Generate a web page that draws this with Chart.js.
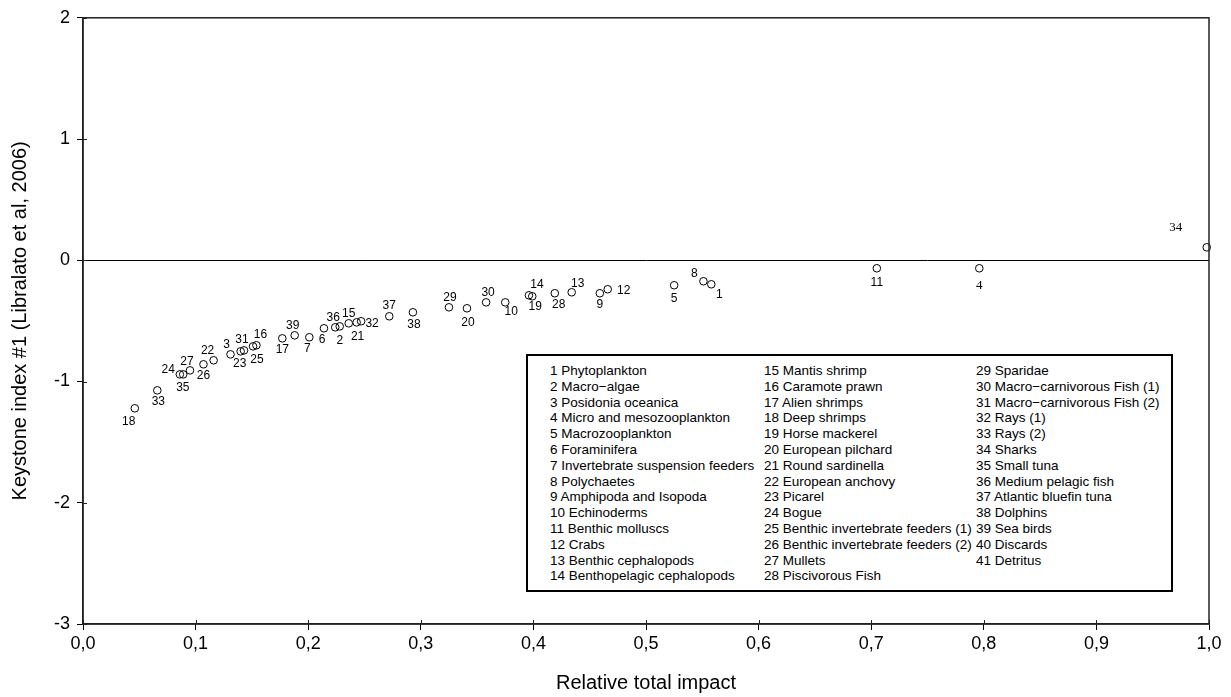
<!DOCTYPE html>
<html>
<head>
<meta charset="utf-8">
<title>Keystone index vs relative total impact</title>
<style>
  html, body { margin: 0; padding: 0; background: #fff; }
  body { font-family: "Liberation Sans", Arial, sans-serif; }
  .wrap { position: relative; width: 1231px; height: 697px; }
  #legendBox {
    position: absolute; left: 526px; top: 354px; width: 647px; height: 238px;
    border: 2px solid #000; box-sizing: border-box; background: #fff;
    font-size: 13.5px; color: #000;
  }
  #legendBox .col { position: absolute; top: 7px; line-height: 15.8px; white-space: nowrap; }
</style>
</head>
<body>
<script src="https://cdn.jsdelivr.net/npm/chart.js@4.4.1/dist/chart.umd.min.js"></script>
<div class="wrap">
  <canvas id="myChart" width="1231" height="697"></canvas>
  <div id="legendBox"></div>
</div>
<script>
// group numbers plotted (40 Discards and 41 Detritus have no point)
const groupIds = [1, 2, 3, 4, 5, 6, 7, 8, 9, 10, 11, 12, 13, 14, 15, 16, 17, 18, 19, 20,
                  21, 22, 23, 24, 25, 26, 27, 28, 29, 30, 31, 32, 33, 34, 35, 36, 37, 38, 39];
const relImpact = [0.558, 0.228, 0.131, 0.796, 0.525, 0.214, 0.201, 0.551, 0.459, 0.375,
                   0.705, 0.466, 0.434, 0.396, 0.236, 0.154, 0.177, 0.046, 0.399, 0.341,
                   0.243, 0.116, 0.140, 0.089, 0.151, 0.107, 0.095, 0.419, 0.325, 0.358,
                   0.143, 0.247, 0.066, 0.998, 0.086, 0.224, 0.272, 0.293, 0.188];
const keystone = [-0.198, -0.545, -0.776, -0.066, -0.206, -0.561, -0.635, -0.173, -0.272, -0.347,
                  -0.066, -0.239, -0.264, -0.289, -0.520, -0.701, -0.644, -1.221, -0.297, -0.396,
                  -0.512, -0.825, -0.751, -0.941, -0.710, -0.858, -0.908, -0.272, -0.388, -0.347,
                  -0.743, -0.503, -1.073, 0.107, -0.941, -0.553, -0.462, -0.429, -0.619];
const groupNames = [
  "Phytoplankton", "Macro\u2212algae", "Posidonia oceanica", "Micro and mesozooplankton",
  "Macrozooplankton", "Foraminifera", "Invertebrate suspension feeders", "Polychaetes",
  "Amphipoda and Isopoda", "Echinoderms", "Benthic molluscs", "Crabs", "Benthic cephalopods",
  "Benthopelagic cephalopods", "Mantis shrimp", "Caramote prawn", "Alien shrimps", "Deep shrimps",
  "Horse mackerel", "European pilchard", "Round sardinella", "European anchovy", "Picarel", "Bogue",
  "Benthic invertebrate feeders (1)", "Benthic invertebrate feeders (2)", "Mullets", "Piscivorous Fish",
  "Sparidae", "Macro\u2212carnivorous Fish (1)", "Macro\u2212carnivorous Fish (2)", "Rays (1)", "Rays (2)",
  "Sharks", "Small tuna", "Medium pelagic fish", "Atlantic bluefin tuna", "Dolphins", "Sea birds",
  "Discards", "Detritus"
];
const xTickValues = [0, 0.1, 0.2, 0.3, 0.4, 0.5, 0.6, 0.7, 0.8, 0.9, 1.0];
const yTickValues = [-3, -2, -1, 0, 1, 2];

// where each number label sits relative to its circle (px)
const labelPlacement = {
  1: [8, 10], 2: [0, 14], 3: [-4, -10], 4: [0, 17], 5: [0, 13], 6: [-2, 11], 7: [-2, 11],
  8: [-9, -8], 9: [0, 11], 10: [6, 9], 11: [0, 14], 12: [16, 1], 13: [6, -9], 14: [8, -11],
  15: [0, -10], 16: [4, -11], 17: [0, 11], 18: [-6, 13], 19: [3, 10], 20: [1, 14], 21: [1, 14],
  22: [-6, -10], 23: [-1, 12], 24: [-15, -5], 25: [4, 13], 26: [0, 11], 27: [-3, -9], 28: [4, 11],
  29: [1, -10], 30: [2, -10], 31: [-2, -11], 32: [11, 2], 33: [1, 11], 34: [-31, -20], 35: [3, 13],
  36: [-2, -10], 37: [0, -11], 38: [1, 12], 39: [-2, -10]
};

const FONT = '"Liberation Sans", Arial, sans-serif';

// legend box: three columns of numbered group names
const box = document.getElementById('legendBox');
const colLeft = [22, 236, 448];
[[0, 14], [14, 28], [28, 41]].forEach((r, c) => {
  const div = document.createElement('div');
  div.className = 'col';
  div.style.left = colLeft[c] + 'px';
  div.innerHTML = groupNames.slice(r[0], r[1])
    .map((n, k) => (r[0] + k + 1) + ' ' + n).join('<br>');
  box.appendChild(div);
});

const pointLabels = {
  id: 'pointLabels',
  afterDatasetsDraw(chart) {
    const ctx = chart.ctx;
    const meta = chart.getDatasetMeta(0);
    ctx.save();
    ctx.fillStyle = '#000';
    ctx.textAlign = 'center';
    ctx.textBaseline = 'middle';
    meta.data.forEach((pt, i) => {
      const id = groupIds[i];
      const off = labelPlacement[id] || [0, 12];
      ctx.font = (id === 34 || id === 4) ? '13px "Liberation Serif", serif' : '12px ' + FONT;
      ctx.fillText(String(id), pt.x + off[0], pt.y + off[1]);
    });
    ctx.restore();
  }
};

// box round the plot + inner half of the tick marks
const frame = {
  id: 'frame',
  afterDraw(chart) {
    const { ctx, chartArea: a, scales } = chart;
    ctx.save();
    ctx.strokeStyle = '#222';
    ctx.lineWidth = 1.5;
    ctx.strokeRect(a.left, a.top, a.right - a.left, a.bottom - a.top);
    ctx.lineWidth = 1;
    ctx.beginPath();
    xTickValues.forEach(v => {
      const px = Math.round(scales.x.getPixelForValue(v)) + 0.5;
      ctx.moveTo(px, a.bottom); ctx.lineTo(px, a.bottom - 4);
    });
    yTickValues.forEach(v => {
      const py = Math.round(scales.y.getPixelForValue(v)) + 0.5;
      ctx.moveTo(a.left, py); ctx.lineTo(a.left + 4, py);
    });
    ctx.stroke();
    ctx.restore();
  }
};

const points = relImpact.map((x, i) => ({ x: x, y: keystone[i] }));

new Chart(document.getElementById('myChart'), {
  type: 'scatter',
  data: {
    datasets: [{
      data: points,
      pointStyle: 'circle',
      pointRadius: 3.8,
      borderWidth: 1,
      borderColor: '#000',
      backgroundColor: 'rgba(0,0,0,0)',
      clip: false
    }]
  },
  options: {
    responsive: false,
    animation: false,
    layout: { padding: { top: 17, right: 22, left: 0, bottom: 0 } },
    plugins: { legend: { display: false }, tooltip: { enabled: false } },
    scales: {
      x: {
        type: 'linear', min: 0, max: 1,
        afterBuildTicks: s => { s.ticks = xTickValues.map(v => ({ value: v })); },
        afterFit: s => { s.height = 73; },
        ticks: {
          callback: v => v.toFixed(1).replace('.', ','),
          color: '#000', font: { family: FONT, size: 18 }, padding: 3,
          maxRotation: 0, autoSkip: false
        },
        grid: { drawOnChartArea: false, tickLength: 6, tickColor: '#000' },
        border: { color: '#222', width: 1.5 },
        title: {
          display: true, text: 'Relative total impact', color: '#000',
          font: { family: FONT, size: 20 }, padding: { top: 0, bottom: 2 }
        }
      },
      y: {
        type: 'linear', min: -3, max: 2,
        afterBuildTicks: s => { s.ticks = yTickValues.map(v => ({ value: v })); },
        afterFit: s => { s.width = 83; },
        ticks: { color: '#000', font: { family: FONT, size: 18 }, padding: 7 },
        grid: {
          color: c => (c.tick && c.tick.value === 0) ? '#000' : 'rgba(0,0,0,0)',
          lineWidth: 1, tickLength: 6, tickColor: '#000'
        },
        border: { color: '#222', width: 1.5 },
        title: {
          display: true, text: 'Keystone index #1 (Libralato et al, 2006)', color: '#000',
          font: { family: FONT, size: 20 }, padding: { top: 8, bottom: 0 }
        }
      }
    }
  },
  plugins: [pointLabels, frame]
});
</script>
</body>
</html>
